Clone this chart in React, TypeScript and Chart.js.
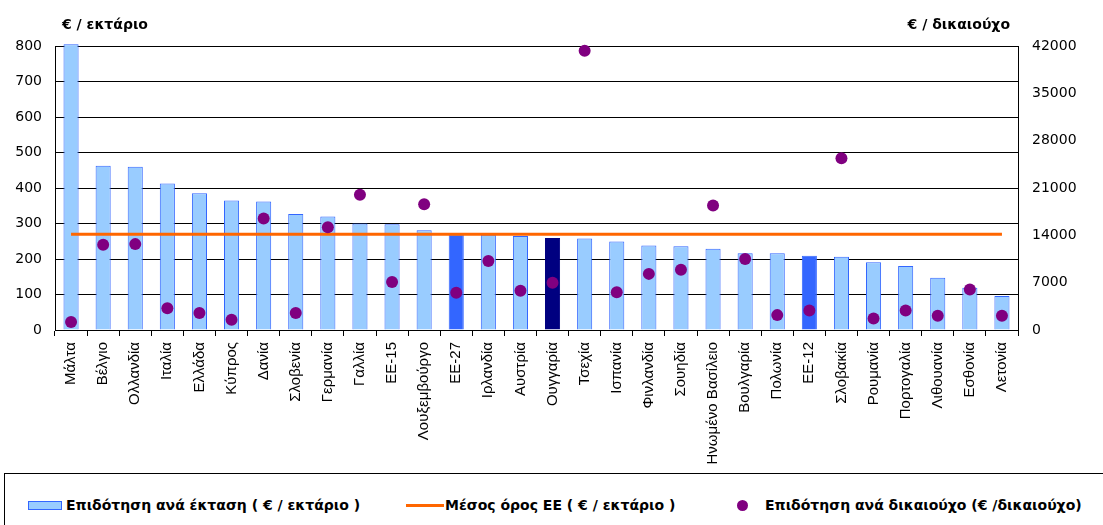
import React, { useEffect, useRef } from "react";
import { Chart, registerables } from "chart.js";

Chart.register(...registerables);

const categories = [
  "Μάλτα", "Βέλγιο", "Ολλανδία", "Ιταλία", "Ελλάδα", "Κύπρος", "Δανία", "Σλοβενία",
  "Γερμανία", "Γαλλία", "ΕΕ-15", "Λουξεμβούργο", "ΕΕ-27", "Ιρλανδία", "Αυστρία",
  "Ουγγαρία", "Τσεχία", "Ισπανία", "Φινλανδία", "Σουηδία", "Ηνωμένο Βασίλειο",
  "Βουλγαρία", "Πολωνία", "ΕΕ-12", "Σλοβακία", "Ρουμανία", "Πορτογαλία",
  "Λιθουανία", "Εσθονία", "Λετονία",
];

// € / εκτάριο (left axis)
const areaSubsidy = [
  805, 463, 460, 413, 385, 365, 362, 327, 320, 300, 298, 281, 270, 268, 265,
  259, 258, 249, 238, 236, 229, 216, 216, 209, 206, 191, 180, 147, 119, 96,
];

// € / δικαιούχο (right axis)
const beneficiarySubsidy = [
  1200, 12600, 12700, 3200, 2500, 1500, 16500, 2500, 15200, 20000, 7100, 18600,
  5500, 10200, 5800, 7000, 41300, 5600, 8300, 8900, 18400, 10500, 2200, 2900,
  25400, 1700, 2900, 2100, 6000, 2100,
];

// Μέσος όρος ΕΕ (€ / εκτάριο)
const euAverage = [
  270, 270, 270, 270, 270, 270, 270, 270, 270, 270, 270, 270, 270, 270, 270,
  270, 270, 270, 270, 270, 270, 270, 270, 270, 270, 270, 270, 270, 270, 270,
];

const leftTicks = [0, 100, 200, 300, 400, 500, 600, 700, 800];
const rightTicks = [0, 7000, 14000, 21000, 28000, 35000, 42000];

const seriesNames = [
  "Επιδότηση ανά έκταση ( € / εκτάριο )",
  "Μέσος όρος ΕΕ ( € / εκτάριο )",
  "Επιδότηση ανά δικαιούχο (€ /δικαιούχο)",
];
const leftTitle = "€ / εκτάριο";
const rightTitle = "€ / δικαιούχο";

const LIGHT = "#99CCFF";
const BLUE = "#3366FF";
const NAVY = "#000080";
const ORANGE = "#FF6600";
const PURPLE = "#800080";

const barFill = categories.map((c) =>
  c === "ΕΕ-27" || c === "ΕΕ-12" ? BLUE : c === "Ουγγαρία" ? NAVY : LIGHT
);
const barBorder = categories.map((c) => (c === "Ουγγαρία" ? NAVY : BLUE));

const axisTitles = {
  id: "axisTitles",
  afterDraw(chart: any) {
    const { ctx, chartArea } = chart;
    ctx.save();
    ctx.fillStyle = "#000";
    ctx.font = "bold 14px 'DejaVu Sans'";
    ctx.textBaseline = "middle";
    ctx.textAlign = "left";
    ctx.fillText(leftTitle, chartArea.left + 7, 25);
    ctx.textAlign = "right";
    ctx.fillText(rightTitle, chartArea.right - 8, 25);
    ctx.restore();
  },
};

export default function App() {
  const ref = useRef<HTMLCanvasElement>(null);

  useEffect(() => {
    if (!ref.current) return;
    const chart = new Chart(ref.current, {
      type: "bar",
      data: {
        labels: categories,
        datasets: [
          {
            type: "line",
            label: seriesNames[2],
            data: beneficiarySubsidy,
            yAxisID: "y1",
            showLine: false,
            pointRadius: 6,
            pointHoverRadius: 6,
            pointBackgroundColor: PURPLE,
            pointBorderColor: PURPLE,
            pointBorderWidth: 0,
            backgroundColor: PURPLE,
            borderColor: PURPLE,
            order: 0,
            clip: false,
          } as any,
          {
            type: "line",
            label: seriesNames[1],
            data: euAverage,
            yAxisID: "y",
            borderColor: ORANGE,
            borderWidth: 3,
            pointRadius: 0,
            fill: false,
            order: 1,
          } as any,
          {
            type: "bar",
            label: seriesNames[0],
            data: areaSubsidy,
            yAxisID: "y",
            backgroundColor: barFill,
            borderColor: barBorder,
            borderWidth: 1,
            barPercentage: 0.47,
            categoryPercentage: 1,
            order: 2,
            clip: false,
          } as any,
        ],
      },
      options: {
        responsive: false,
        animation: false,
        events: [],
        layout: { padding: { top: 46, left: 0, right: 0, bottom: 0 } },
        plugins: {
          legend: { display: false },
          tooltip: { enabled: false },
          title: { display: false },
        },
        scales: {
          x: {
            offset: true,
            grid: {
              offset: true,
              drawOnChartArea: false,
              drawTicks: true,
              tickLength: 6,
              color: "#000",
            },
            border: { display: true, color: "#000", width: 1 },
            ticks: {
              autoSkip: false,
              maxRotation: 90,
              minRotation: 90,
              padding: 6,
              color: "#000",
              font: { family: "'Liberation Sans'", size: 15 },
            },
            afterFit(scale: any) {
              scale.height = 140;
            },
          },
          y: {
            position: "left",
            min: 0,
            max: 800,
            afterBuildTicks(scale: any) {
              scale.ticks = leftTicks.map((v) => ({ value: v }));
            },
            grid: {
              drawTicks: false,
              color: "#000",
              lineWidth: 1,
            },
            border: { display: true, color: "#000", width: 1 },
            ticks: {
              padding: 13,
              color: "#000",
              font: { family: "'DejaVu Sans'", size: 14 },
              callback: (v: any) => String(v),
            },
            afterFit(scale: any) {
              scale.width = 55;
            },
          },
          y1: {
            position: "right",
            min: 0,
            max: 42000,
            afterBuildTicks(scale: any) {
              scale.ticks = rightTicks.map((v) => ({ value: v }));
            },
            grid: { drawOnChartArea: false, drawTicks: false },
            border: { display: true, color: "#000", width: 1 },
            ticks: {
              padding: 14,
              color: "#000",
              font: { family: "'DejaVu Sans'", size: 14 },
              callback: (v: any) => String(v),
            },
            afterFit(scale: any) {
              scale.width = 85;
            },
          },
        },
      },
      plugins: [axisTitles],
    });
    return () => chart.destroy();
  }, []);

  const legendText: React.CSSProperties = {
    position: "absolute",
    top: 22,
    font: "bold 14px 'DejaVu Sans'",
    color: "#000",
    whiteSpace: "nowrap",
    lineHeight: "18px",
  };

  return (
    <div
      style={{
        position: "absolute",
        left: 0,
        top: 0,
        width: 1103,
        height: 525,
        overflow: "hidden",
        background: "#fff",
      }}
    >
      <canvas
        ref={ref}
        width={1103}
        height={470}
        style={{ position: "absolute", left: 0, top: 0, width: 1103, height: 470 }}
      />
      <div
        style={{
          position: "absolute",
          left: 4,
          top: 473,
          width: 1120,
          height: 80,
          border: "1px solid #000",
          boxSizing: "border-box",
        }}
      >
        <div
          style={{
            position: "absolute",
            left: 23,
            top: 27,
            width: 32,
            height: 7,
            background: LIGHT,
            border: `1px solid ${BLUE}`,
          }}
        />
        <div style={{ ...legendText, left: 61 }}>{seriesNames[0]}</div>
        <div
          style={{
            position: "absolute",
            left: 401,
            top: 30,
            width: 38,
            height: 3,
            background: ORANGE,
          }}
        />
        <div style={{ ...legendText, left: 440 }}>{seriesNames[1]}</div>
        <div
          style={{
            position: "absolute",
            left: 732,
            top: 26,
            width: 11,
            height: 11,
            borderRadius: "50%",
            background: PURPLE,
          }}
        />
        <div style={{ ...legendText, left: 760 }}>{seriesNames[2]}</div>
      </div>
    </div>
  );
}
